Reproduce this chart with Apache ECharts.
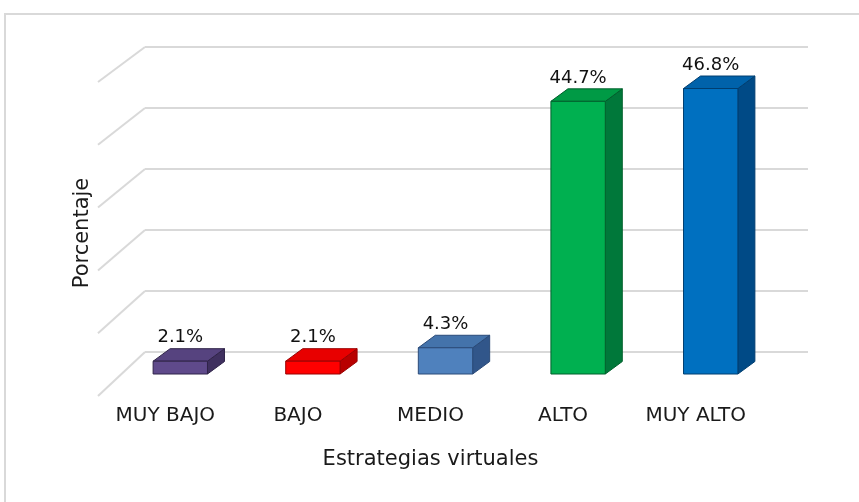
<!DOCTYPE html>
<html>
<head>
<meta charset="utf-8">
<script src="https://cdn.jsdelivr.net/npm/echarts@6/dist/echarts.min.js"></script>
<style>
  html, body { margin: 0; padding: 0; background: #fff; }
  #main { width: 859px; height: 502px; }
</style>
</head>
<body>
<div id="main"></div>
<script>
var myChart = echarts.init(document.getElementById('main'));

var categories = ['MUY BAJO', 'BAJO', 'MEDIO', 'ALTO', 'MUY ALTO'];
var values = [2.1, 2.1, 4.3, 44.7, 46.8];
var yTicks = [0, 10, 20, 30, 40, 50];

// front / top / side colours of each bar
var faceColors = ['#5f4a8b', '#ff0000', '#4f81bd', '#00b050', '#0070c0'];
var topColors = ['#56437f', '#e80000', '#4473ab', '#009a45', '#0062aa'];
var sideColors = ['#3f305f', '#b80000', '#31568a', '#00783a', '#004a86'];
var edgeColors = ['#2f2348', '#990000', '#2a4a78', '#00602c', '#003e70'];

var FONT = 'DejaVu Sans';
var FRONT_DX = -31, FRONT_DY = 22;   // bar front face offset from back wall
var DEPTH_DX = 17, DEPTH_DY = -12.5;  // bar depth
var FLOOR_DX = -47;                   // floor depth

function renderBar(params, api) {
    var i = api.value(0);
    var v = api.value(1);
    var top = api.coord([i, v]);
    var base = api.coord([i, 0]);
    var w = api.size([1, 0])[0] * 0.41;
    var x0 = top[0] + FRONT_DX - w / 2;
    var x1 = x0 + w;
    var yT = top[1] + FRONT_DY;
    var yB = base[1] + FRONT_DY;
    var edge = { stroke: edgeColors[i], lineWidth: 1 };
    return {
        type: 'group',
        children: [{
            type: 'polygon',
            shape: { points: [[x1, yT], [x1 + DEPTH_DX, yT + DEPTH_DY], [x1 + DEPTH_DX, yB + DEPTH_DY], [x1, yB]] },
            style: Object.assign({ fill: sideColors[i] }, edge)
        }, {
            type: 'polygon',
            shape: { points: [[x0, yT], [x1, yT], [x1 + DEPTH_DX, yT + DEPTH_DY], [x0 + DEPTH_DX, yT + DEPTH_DY]] },
            style: Object.assign({ fill: topColors[i] }, edge)
        }, {
            type: 'rect',
            shape: { x: x0, y: yT, width: w, height: yB - yT },
            style: Object.assign({ fill: faceColors[i] }, edge)
        }, {
            type: 'text',
            style: {
                x: x0 + w / 2,
                y: yT + DEPTH_DY - 2,
                text: v.toFixed(1) + '%',
                align: 'center',
                verticalAlign: 'bottom',
                font: '18px "' + FONT + '"',
                fill: '#111111'
            }
        }]
    };
}

function renderFloorLine(params, api) {
    var v = api.value(1);
    var p = api.coord([0, v]);
    var x = params.coordSys.x;
    return {
        type: 'line',
        shape: { x1: x, y1: p[1], x2: x + FLOOR_DX, y2: p[1] + 44 - 0.18 * v },
        style: { stroke: '#d9d9d9', lineWidth: 2 }
    };
}

var option = {
    backgroundColor: '#ffffff',
    animation: false,
    grid: {
        left: 145,
        right: 51,
        top: 47,
        bottom: 150
    },
    xAxis: {
        type: 'category',
        data: categories,
        axisLine: { show: false },
        axisTick: { show: false },
        axisLabel: {
            margin: 54,
            padding: [0, 92, 0, 0],
            fontFamily: FONT,
            fontSize: 20,
            color: '#1a1a1a'
        },
        name: 'Estrategias virtuales',
        nameLocation: 'middle',
        nameGap: 97,
        nameTextStyle: {
            padding: [0, 92, 0, 0],
            fontFamily: FONT,
            fontSize: 21,
            color: '#1a1a1a'
        }
    },
    yAxis: {
        type: 'value',
        min: 0,
        max: 50,
        interval: 10,
        axisLine: { show: false },
        axisTick: { show: false },
        axisLabel: { show: false },
        splitLine: {
            lineStyle: { color: '#d9d9d9', width: 2 }
        }
    },
    graphic: [{
        type: 'rect',
        shape: { x: 5, y: 14, width: 900, height: 600 },
        style: { fill: 'none', stroke: '#d9d9d9', lineWidth: 2 },
        silent: true
    }, {
        type: 'text',
        x: 83,
        y: 233,
        rotation: Math.PI / 2,
        style: {
            text: 'Porcentaje',
            align: 'center',
            verticalAlign: 'middle',
            font: '21px "' + FONT + '"',
            fill: '#1a1a1a'
        }
    }],
    series: [{
        type: 'custom',
        renderItem: renderFloorLine,
        data: yTicks.map(function (v) { return [0, v]; }),
        encode: { x: 0, y: 1 },
        silent: true,
        z: 1
    }, {
        type: 'custom',
        renderItem: renderBar,
        data: values.map(function (v, i) { return [i, v]; }),
        encode: { x: 0, y: 1 },
        z: 2
    }]
};
myChart.setOption(option);
</script>
</body>
</html>
